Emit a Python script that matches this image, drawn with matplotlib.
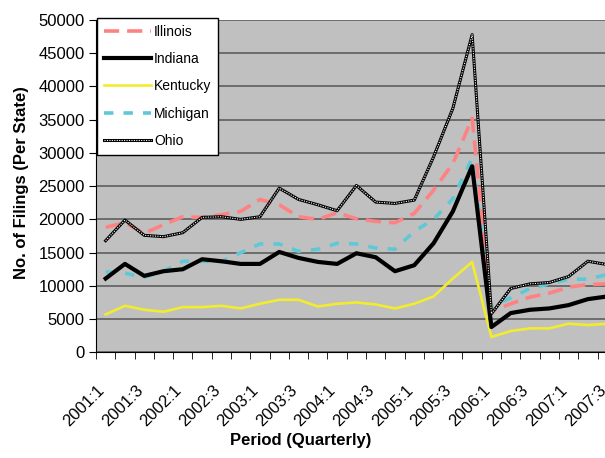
import matplotlib
matplotlib.use("Agg")
import matplotlib.pyplot as plt
import matplotlib.transforms as mtransforms
from matplotlib.lines import Line2D
import numpy as np

plt.rcParams['font.family'] = ['Liberation Sans', 'DejaVu Sans']

# quarterly periods
periods = ["2001:1", "2001:2", "2001:3", "2001:4", "2002:1", "2002:2", "2002:3",
           "2002:4", "2003:1", "2003:2", "2003:3", "2003:4", "2004:1", "2004:2",
           "2004:3", "2004:4", "2005:1", "2005:2", "2005:3", "2005:4", "2006:1",
           "2006:2", "2006:3", "2006:4", "2007:1", "2007:2", "2007:3"]

illinois = [18800, 19500, 17900, 19200, 20400, 20300, 20700, 21200, 23000, 22200,
            20400, 20000, 21000, 20100, 19700, 19500, 20900, 24400, 28400, 35200,
            6200, 7300, 8300, 8900, 9800, 10200, 10300]
indiana = [11100, 13300, 11500, 12200, 12500, 14000, 13700, 13300, 13300, 15100,
           14200, 13600, 13300, 14900, 14300, 12200, 13100, 16400, 21200, 28000,
           3800, 5900, 6400, 6600, 7100, 8000, 8400]
kentucky = [5700, 7000, 6400, 6100, 6800, 6800, 7000, 6600, 7300, 7900,
            7900, 6900, 7300, 7500, 7200, 6600, 7300, 8400, 11100, 13600,
            2300, 3200, 3600, 3600, 4300, 4100, 4300]
michigan = [12100, 11900, 11300, 12200, 13700, 13700, 13600, 15000, 16300, 16300,
            15200, 15500, 16400, 16300, 15700, 15500, 18200, 20000, 23100, 29200,
            6800, 8200, 9600, 10300, 11000, 11000, 11700]
ohio = [16800, 19900, 17600, 17400, 18000, 20300, 20400, 20000, 20400, 24700,
        23000, 22200, 21300, 25100, 22600, 22400, 22900, 29400, 36700, 47800,
        5800, 9600, 10300, 10500, 11400, 13700, 13200]

x = np.arange(len(periods))

fig = plt.figure(figsize=(6.05, 4.58), dpi=100)
# plot area runs past the right edge, like the cropped original
ax = fig.add_axes([96 / 605, 1 - 352.3 / 458, 520.8 / 605, 332.3 / 458])
ax.set_facecolor('#C0C0C0')

ax.plot(x, kentucky, color='#F2EC2E', lw=1.9, zorder=3)
ax.plot(x, indiana, color='black', lw=3.0, zorder=4)
ax.plot(x, michigan, color='#5FC8D6', lw=2.6, dashes=(2.6, 2.8), zorder=3)
ax.plot(x, illinois, color='#FF8282', lw=2.6, dashes=(4.2, 2.2), zorder=3)
ax.plot(x, ohio, color='black', lw=2.2, zorder=5)
ax.plot(x, ohio, color='white', lw=0.8, dashes=(1, 1.2), zorder=6)

ax.set_xlim(-0.5, len(periods) - 0.5)
ax.set_ylim(0, 50000)
ax.set_yticks(np.arange(0, 50001, 5000))
ax.tick_params(axis='y', labelsize=12, length=5, direction='out', pad=3)
ax.yaxis.grid(True, color='#666666', lw=1.3)
ax.set_axisbelow(True)

ax.set_xticks(x[::2])
ax.set_xticklabels(periods[::2], rotation=45, ha='right', rotation_mode='anchor')
ax.set_xticks(np.arange(-0.5, len(periods), 1), minor=True)
ax.tick_params(axis='x', which='major', length=0, labelsize=12, pad=22)
ax.tick_params(axis='x', which='minor', length=5, direction='out')
shift = mtransforms.ScaledTranslation(-9 / 100, 0, fig.dpi_scale_trans)
for lab in ax.get_xticklabels():
    lab.set_transform(lab.get_transform() + shift)

for s in ['top', 'right']:
    ax.spines[s].set_visible(False)
ax.spines['left'].set_color('black')
ax.spines['bottom'].set_color('black')

fig.text(22 / 605, 1 - 183 / 458, 'No. of Filings (Per State)', rotation=90,
         ha='center', va='center', fontsize=12, fontweight='bold')
fig.text(301 / 605, 1 - 441 / 458, 'Period (Quarterly)', ha='center',
         va='center', fontsize=12, fontweight='bold')

h_il = Line2D([], [], color='#FF8282', lw=2.6, dashes=(4.2, 2.2))
h_in = Line2D([], [], color='black', lw=3.0)
h_ky = Line2D([], [], color='#F2EC2E', lw=1.9)
h_mi = Line2D([], [], color='#5FC8D6', lw=2.6, dashes=(2.6, 2.8))
h_oh = (Line2D([], [], color='black', lw=2.2),
        Line2D([], [], color='white', lw=0.8, dashes=(1, 1.2)))
leg = ax.legend([h_il, h_in, h_ky, h_mi, h_oh],
                ['Illinois', 'Indiana', 'Kentucky', 'Michigan', 'Ohio'],
                loc='upper left', bbox_to_anchor=(0.002, 1.006), fontsize=10,
                frameon=True, fancybox=False, handlelength=3.4,
                labelspacing=0.95, borderaxespad=0, handletextpad=0.2,
                borderpad=0.5)
leg.get_frame().set_edgecolor('black')
leg.get_frame().set_linewidth(1.0)
leg.get_frame().set_alpha(1)

fig.savefig('out.png', dpi=100)
